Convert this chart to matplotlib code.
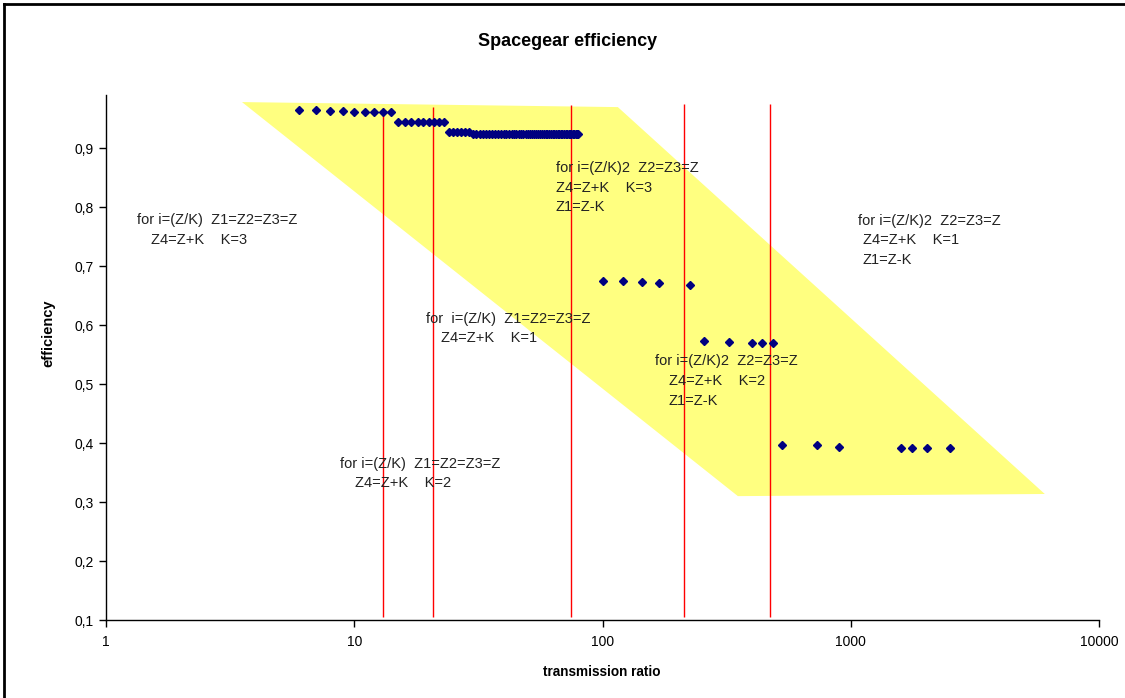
import matplotlib
matplotlib.use("Agg")
from matplotlib import pyplot as plt
from matplotlib.ticker import FixedLocator, NullLocator, FuncFormatter
from matplotlib.lines import Line2D

plt.rcParams['font.family'] = ['Liberation Sans', 'DejaVu Sans']

# measured points: transmission ratio / efficiency
ratio_k3a = [6, 7, 8, 9, 10, 11, 12, 13, 14]
eff_k3a = [0.965, 0.964, 0.963, 0.963, 0.962, 0.962, 0.962, 0.962, 0.961]

ratio_k2a = [15, 16, 17, 18, 19, 20, 21, 22, 23]
eff_k2a = [0.944, 0.944, 0.944, 0.944, 0.944, 0.944, 0.944, 0.944, 0.944]

ratio_k1a = [24, 25, 26, 27, 28, 29, 30, 31, 32, 33, 34, 35, 36, 37, 38, 39,
             40, 41, 42, 43, 44, 45, 46, 47, 48, 49, 50, 51, 52, 53, 54, 55,
             56, 57, 58, 59, 60, 61, 62, 63, 64, 65, 66, 67, 68, 69, 70, 71,
             72, 73, 74, 75, 76, 77, 78, 79, 80]
eff_k1a = [0.927, 0.927, 0.927, 0.927, 0.927, 0.927, 0.924, 0.924, 0.924,
           0.924, 0.924, 0.924, 0.924, 0.924, 0.924, 0.924, 0.924, 0.924,
           0.924, 0.924, 0.924, 0.924, 0.924, 0.924, 0.924, 0.924, 0.924,
           0.924, 0.924, 0.924, 0.924, 0.924, 0.924, 0.924, 0.924, 0.924,
           0.924, 0.924, 0.924, 0.924, 0.924, 0.924, 0.924, 0.924, 0.924,
           0.924, 0.924, 0.924, 0.924, 0.924, 0.924, 0.924, 0.924, 0.924,
           0.924, 0.924, 0.924]

ratio_sq1 = [100, 121, 144, 169, 225]
eff_sq1 = [0.675, 0.674, 0.673, 0.672, 0.668]

ratio_sq2 = [256, 324, 400, 441, 484]
eff_sq2 = [0.573, 0.571, 0.570, 0.569, 0.569]

ratio_sq3 = [529, 729, 900, 1600, 1764, 2025, 2500]
eff_sq3 = [0.397, 0.397, 0.393, 0.391, 0.391, 0.391, 0.391]

# region boundaries
bound_x = [13, 20.8, 74.6, 213, 472]
bound_lo = [0.105, 0.105, 0.105, 0.105, 0.105]
bound_hi = [0.968, 0.970, 0.973, 0.975, 0.975]

# yellow band corners
band_x = [3.53, 115.3, 6049, 351]
band_y = [0.978, 0.9695, 0.3136, 0.310]

# annotations: (x, y, text) per line
notes = [
    (1.333, 0.778, 'for i=(Z/K)  Z1=Z2=Z3=Z'),
    (1.518, 0.744, 'Z4=Z+K    K=3'),
    (19.45, 0.610, 'for  i=(Z/K)  Z1=Z2=Z3=Z'),
    (22.35, 0.578, 'Z4=Z+K    K=1'),
    (8.76, 0.364, 'for i=(Z/K)  Z1=Z2=Z3=Z'),
    (10.07, 0.332, 'Z4=Z+K    K=2'),
    (64.9, 0.866, 'for i=(Z/K)2  Z2=Z3=Z'),
    (64.9, 0.832, 'Z4=Z+K    K=3'),
    (64.9, 0.800, 'Z1=Z-K'),
    (162.6, 0.539, 'for i=(Z/K)2  Z2=Z3=Z'),
    (185.0, 0.505, 'Z4=Z+K    K=2'),
    (185.0, 0.471, 'Z1=Z-K'),
    (1068, 0.776, 'for i=(Z/K)2  Z2=Z3=Z'),
    (1119, 0.744, 'Z4=Z+K    K=1'),
    (1119, 0.710, 'Z1=Z-K'),
]

x_ticks = [1, 10, 100, 1000, 10000]
y_ticks = [0.1, 0.2, 0.3, 0.4, 0.5, 0.6, 0.7, 0.8, 0.9]

fig = plt.figure(figsize=(11.25, 6.98), dpi=100)
ax = fig.add_axes([106/1125, 1-620/698, 993/1125, 525/698])

ax.fill(band_x, band_y, color='#ffff80', lw=0, zorder=1)
ax.vlines(bound_x, bound_lo, bound_hi, colors='#ff0000', lw=1, zorder=2)

for xs, ys in [(ratio_k3a, eff_k3a), (ratio_k2a, eff_k2a), (ratio_k1a, eff_k1a),
               (ratio_sq1, eff_sq1), (ratio_sq2, eff_sq2), (ratio_sq3, eff_sq3)]:
    ax.plot(xs, ys, ls='none', marker='D', ms=4.5, color='#000080', zorder=3)

for x, y, t in notes:
    ax.text(x, y, t, fontsize=10.5, color='#222222', ha='left', va='center', zorder=4)

ax.set_xscale('log')
ax.set_xlim(1, 10000)
ax.set_ylim(0.1, 0.99)
ax.xaxis.set_major_locator(FixedLocator(x_ticks))
ax.xaxis.set_minor_locator(NullLocator())
ax.xaxis.set_major_formatter(FuncFormatter(lambda v, p: '%d' % round(v)))
ax.yaxis.set_major_locator(FixedLocator(y_ticks))
ax.yaxis.set_major_formatter(FuncFormatter(lambda v, p: ('%.1f' % v).replace('.', ',')))
ax.tick_params(direction='out', length=5, width=1, labelsize=10, pad=4, colors='black')
ax.tick_params(axis='x', pad=6)

for s in ['top', 'right']:
    ax.spines[s].set_visible(False)
for s in ['left', 'bottom']:
    ax.spines[s].set_linewidth(1)

fig.text(568/1125, 1-41/698, 'Spacegear efficiency', fontsize=13, fontweight='bold',
         ha='center', va='center')
fig.text(602/1125, 1-672/698, 'transmission ratio', fontsize=9.8, fontweight='bold',
         ha='center', va='center')
fig.text(48/1125, 1-333/698, 'efficiency', fontsize=10.5, fontweight='bold',
         rotation=90, ha='center', va='center')

# outer frame of the chart area
fig.add_artist(Line2D([4/1125, 4/1125], [0, 1-4/698], transform=fig.transFigure, color='black', lw=2))
fig.add_artist(Line2D([4/1125, 1], [1-4/698, 1-4/698], transform=fig.transFigure, color='black', lw=2))

fig.savefig('out.png', dpi=100)
